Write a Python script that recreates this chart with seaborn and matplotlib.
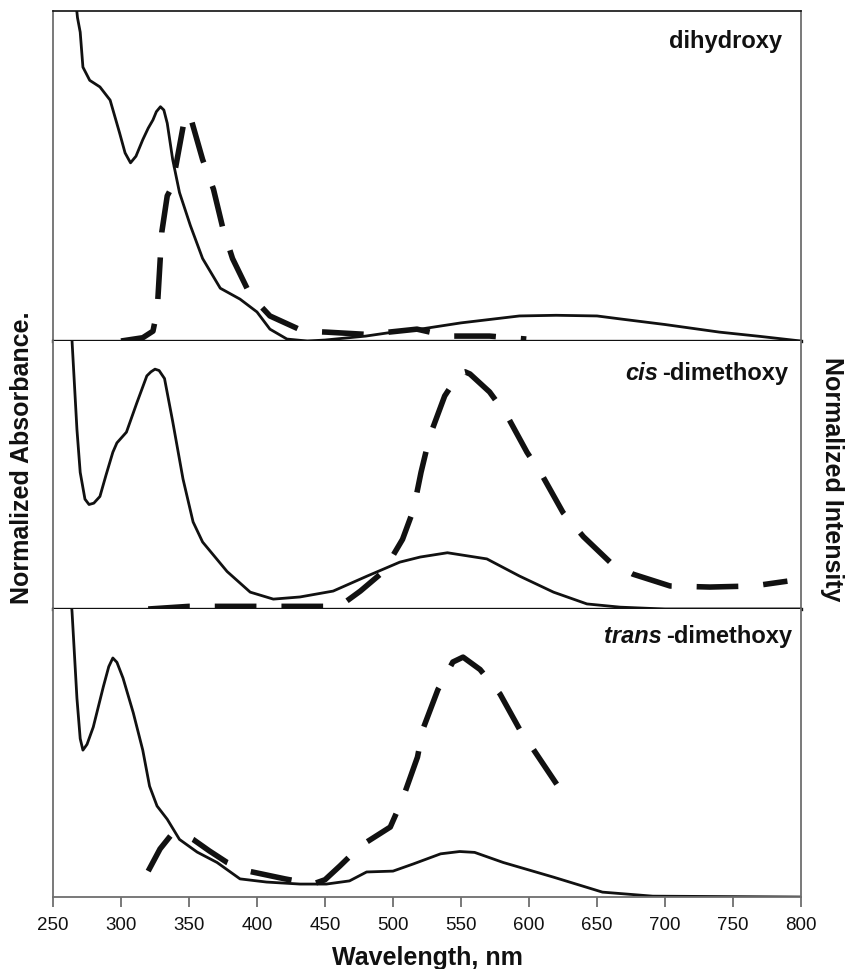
import matplotlib
matplotlib.use("Agg")
import matplotlib.pyplot as plt
import seaborn as sns

# ---- data (normalized) ----
# dihydroxy
wl_abs_dihydroxy = [267, 268, 270, 272, 277, 284.5, 292, 299, 303, 307, 311, 316, 320, 323.5, 326, 329,
                    331.5, 334, 338, 343, 351, 360, 373, 387.5, 400, 409.5, 422, 437, 450, 480, 500, 520,
                    550, 593, 620, 650, 667, 700, 740, 770, 800]
abs_dihydroxy = [1.02, 0.98, 0.936, 0.83, 0.79, 0.77, 0.73, 0.63, 0.57, 0.54, 0.56, 0.61, 0.645, 0.67, 0.695, 0.71,
                 0.70, 0.66, 0.55, 0.45, 0.35, 0.25, 0.16, 0.127, 0.088, 0.036, 0.006, 0.0, 0.003, 0.015, 0.027, 0.036,
                 0.055, 0.076, 0.078, 0.076, 0.067, 0.05, 0.027, 0.014, 0.0]
wl_em_dihydroxy = [300, 316, 323.5, 325, 327, 330, 334, 337.5, 341, 347, 349, 351, 360, 368, 375, 382,
                   395, 409.5, 434, 451, 481, 517.6, 540, 571, 598]
em_dihydroxy = [0.0, 0.01, 0.03, 0.06, 0.12, 0.33, 0.44, 0.467, 0.545, 0.68, 0.69, 0.68, 0.55, 0.46, 0.34, 0.25,
                0.14, 0.076, 0.03, 0.027, 0.02, 0.036, 0.015, 0.015, 0.006]

# cis-dimethoxy
wl_abs_cis = [263.5, 264, 267.6, 270, 273.5, 276.5, 280, 284.5, 289, 294, 297, 304, 311.7, 319, 322, 325,
              328, 332, 338, 345.6, 353, 360, 378, 395, 412, 431.6, 456, 481, 505, 520, 540, 569, 593,
              618, 642.6, 667, 700, 800]
abs_cis = [1.02, 1.0, 0.67, 0.51, 0.41, 0.39, 0.395, 0.42, 0.50, 0.585, 0.62, 0.66, 0.77, 0.87, 0.885, 0.895,
           0.89, 0.86, 0.70, 0.485, 0.325, 0.25, 0.14, 0.063, 0.037, 0.045, 0.067, 0.123, 0.175, 0.194, 0.21, 0.187, 0.123,
           0.063, 0.019, 0.007, 0.0, 0.0]
wl_em_cis = [320, 350, 400, 440, 456, 466, 476, 493, 507, 515, 520.6, 527, 538, 549, 553, 556.6, 571, 584,
             598.5, 610, 625, 640, 659.6, 676.5, 703.7, 733, 765, 790]
em_cis = [0.0, 0.01, 0.01, 0.01, 0.01, 0.03, 0.067, 0.14, 0.26, 0.37, 0.51, 0.645, 0.795, 0.88, 0.885, 0.877, 0.81, 0.72,
          0.585, 0.496, 0.36, 0.27, 0.175, 0.13, 0.086, 0.082, 0.086, 0.104]

# trans-dimethoxy
wl_abs_trans = [263.5, 264, 267.6, 270, 272, 275, 279.6, 287, 291, 294, 297, 301.5, 309, 316, 321, 326.5,
                334, 343, 356, 370.6, 387.5, 407, 431.6, 451, 468, 480.6, 500, 515, 535, 549, 560, 581,
                618, 654, 691, 800]
abs_trans = [1.02, 0.99, 0.69, 0.55, 0.51, 0.53, 0.59, 0.73, 0.80, 0.83, 0.815, 0.76, 0.64, 0.51, 0.385, 0.316,
             0.27, 0.20, 0.156, 0.12, 0.063, 0.052, 0.045, 0.045, 0.056, 0.087, 0.09, 0.115, 0.15, 0.158, 0.155, 0.12,
             0.069, 0.017, 0.003, 0.0]
wl_em_trans = [320, 328.7, 337.5, 345, 353, 365, 378, 393.5, 420.6, 441, 450, 461, 476, 498, 507, 518,
               522, 533, 544, 551.5, 564, 578.7, 593, 603, 620.6]
em_trans = [0.09, 0.167, 0.219, 0.22, 0.20, 0.16, 0.12, 0.09, 0.063, 0.045, 0.06, 0.108, 0.177, 0.243, 0.34, 0.486,
            0.583, 0.72, 0.816, 0.833, 0.79, 0.705, 0.583, 0.514, 0.39]

xticks = list(range(250, 801, 50))

panels = [
    (wl_abs_dihydroxy, abs_dihydroxy, wl_em_dihydroxy, em_dihydroxy, None, "dihydroxy", 0.9746, 0.89),
    (wl_abs_cis, abs_cis, wl_em_cis, em_cis, "cis", "-dimethoxy", 0.9826, 0.858),
    (wl_abs_trans, abs_trans, wl_em_trans, em_trans, "trans", "-dimethoxy", 0.988, 0.885),
]

sns.set_style("white")
plt.rcParams["font.family"] = ["Liberation Sans", "DejaVu Sans"]

fig, axes = plt.subplots(3, 1, figsize=(8.48, 9.70), dpi=100, sharex=True,
                         gridspec_kw={"height_ratios": [330, 268, 288], "hspace": 0})
fig.subplots_adjust(left=0.0625, right=0.9446, bottom=0.0742, top=0.9876)

grey = "#6e6e6e"
dash = (0, (7.5, 4.5))

for i, (ax, (wa, ya, we, ye, ital, name, tx, ty)) in enumerate(zip(axes, panels)):
    sns.lineplot(x=wa, y=ya, ax=ax, color="#111111", lw=2.0, sort=False,
                 solid_joinstyle="round", solid_capstyle="round")
    sns.lineplot(x=we, y=ye, ax=ax, color="#111111", lw=4.0, linestyle=dash, sort=False)
    ax.set_xlim(250, 800)
    ax.set_ylim(0, 1)
    ax.set_yticks([])
    ax.set_ylabel("")
    ax.set_xlabel("")

    for side in ("left", "right"):
        ax.spines[side].set_color(grey)
        ax.spines[side].set_linewidth(1.3)
    if i == 0:
        ax.spines["top"].set_color("#111111")
        ax.spines["top"].set_linewidth(1.2)
    else:
        ax.spines["top"].set_visible(False)
    if i < 2:
        ax.spines["bottom"].set_color("#111111")
        ax.spines["bottom"].set_linewidth(2.4)
        ax.tick_params(axis="x", length=0, labelbottom=False)
    else:
        ax.spines["bottom"].set_color(grey)
        ax.spines["bottom"].set_linewidth(1.3)

    t = ax.text(tx, ty, name, transform=ax.transAxes, ha="right", va="baseline",
                fontsize=17, fontweight="bold", color="#111111")
    if ital is not None:
        ax.annotate(ital, xy=(0, 0), xycoords=t, xytext=(-3, 0), textcoords="offset points",
                    ha="right", va="bottom", fontsize=17, fontweight="bold", fontstyle="italic",
                    color="#111111")

ax = axes[2]
ax.set_xticks(xticks)
ax.set_xticklabels([str(v) for v in xticks], fontsize=13.5, color="#111111")
ax.tick_params(axis="x", direction="out", length=7, width=1.3, color=grey, pad=7, bottom=True)

fig.text(0.5035, 0.005, "Wavelength, nm", ha="center", va="baseline", fontsize=18, fontweight="bold",
         color="#111111")
fig.text(0.026, 0.528, "Normalized Absorbance.", rotation=90, ha="center", va="center", fontsize=18,
         fontweight="bold", color="#111111")
fig.text(0.981, 0.506, "Normalized Intensity", rotation=-90, ha="center", va="center", fontsize=18,
         fontweight="bold", color="#111111")

fig.savefig("out.png", dpi=100)
